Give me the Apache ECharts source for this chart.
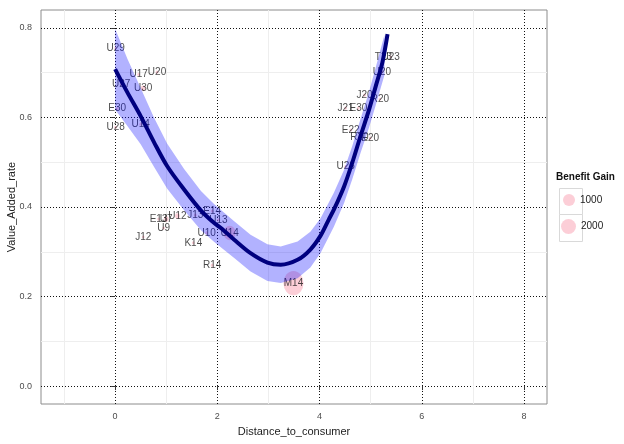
<!DOCTYPE html>
<html>
<head>
<meta charset="utf-8">
<script src="https://cdn.jsdelivr.net/npm/echarts@6/dist/echarts.min.js"></script>
<style>html,body{margin:0;padding:0;background:#fff}#c{width:624px;height:444px}</style>
</head>
<body>
<div id="c"></div>
<script>
// ---- data ----
const pointNames = ['U29','U17','U20','U27','U30','E30','U28','U14',
  'T23','U23','U20','J20','R20','J21','E30','E22','R20','E20','U26',
  'E13','U7','U12','J13','E14','U13','U9','J12','K14','U10','U14','R14','M14'];
const pointDistance = [0.01,0.46,0.82,0.12,0.55,0.04,0.01,0.50,
  5.25,5.39,5.22,4.88,5.18,4.51,4.76,4.61,4.78,4.99,4.51,
  0.85,1.00,1.22,1.57,1.90,2.02,0.95,0.55,1.53,1.79,2.24,1.90,3.49];
const pointValueAdded = [0.755,0.696,0.701,0.674,0.665,0.620,0.578,0.585,
  0.735,0.735,0.702,0.650,0.641,0.621,0.621,0.572,0.556,0.554,0.490,
  0.373,0.373,0.380,0.382,0.391,0.371,0.353,0.333,0.320,0.342,0.342,0.270,0.230];
const pointBenefit = [50,50,50,50,150,50,50,50,
  50,50,50,50,50,50,50,50,50,50,50,
  50,150,150,50,50,50,50,50,50,50,1000,50,2800];

const curveX = [0,0.24,0.50,0.76,1.02,1.35,1.68,1.94,2.07,2.33,2.65,2.98,3.24,3.57,3.82,4.02,4.18,4.28,4.48,4.64,4.80,4.97,5.10,5.23,5.33];
const curveY = [0.708,0.656,0.603,0.545,0.491,0.439,0.392,0.364,0.353,0.327,0.297,0.276,0.271,0.282,0.305,0.336,0.372,0.394,0.446,0.499,0.558,0.618,0.670,0.723,0.786];

const bandX    = [0,0.24,0.50,0.76,1.02,1.35,1.68,1.94,2.33,2.65,2.98,3.24,3.57,3.82,4.02,4.28,4.48,4.64,4.80,4.97,5.10,5.27];
const bandLow  = [0.618,0.581,0.540,0.490,0.441,0.393,0.348,0.322,0.286,0.256,0.235,0.230,0.241,0.265,0.297,0.356,0.409,0.462,0.520,0.578,0.628,0.695];
const bandHigh = [0.798,0.731,0.666,0.600,0.541,0.485,0.436,0.406,0.368,0.338,0.317,0.312,0.323,0.345,0.375,0.432,0.483,0.536,0.596,0.658,0.712,0.785];

const xTicks = [0,2,4,6,8];
const yTicks = [0,0.2,0.4,0.6,0.8];
const xMinor = [-1,1,3,5,7];
const yMinor = [0.1,0.3,0.5,0.7];
const legendValues = [1000,2000];

// ---- build ----
const FONT = '"Liberation Sans", Arial, sans-serif';
const PINK = 'rgba(250,178,192,0.8)';
function sizeOf(v){ const d = 0.38*Math.sqrt(v); return [d, d*1.2]; }

const scatterData = pointNames.map((n,i)=>[pointDistance[i], pointValueAdded[i], pointBenefit[i], n]);
const lineData = curveX.map((x,i)=>[x, curveY[i]]);
const bandData = bandX.map((x,i)=>[x, bandLow[i], bandHigh[i]]);

const chart = echarts.init(document.getElementById('c'), null, {renderer:'canvas'});
const axisLabelStyle = {fontSize:9, color:'#4d4d4d', fontFamily:FONT};
chart.setOption({
  animation:false,
  textStyle:{fontFamily:FONT},
  title:{text:'Benefit Gain', left:556, top:172, padding:0,
    textStyle:{fontSize:10, fontWeight:'bold', color:'#111', fontFamily:FONT}},
  grid:{left:41, right:77, top:10, bottom:40, show:true, borderColor:'#8c8c8c', borderWidth:1,
    backgroundColor:'#fff', containLabel:false, outerBoundsMode:'none'},
  xAxis:{type:'value', min:-1.45, max:8.45,
    name:'Distance_to_consumer', nameLocation:'middle', nameGap:22, nameMoveOverlap:false,
    nameTextStyle:{fontSize:11, color:'#222'},
    axisLine:{show:false},
    axisTick:{show:true, customValues:xTicks, length:4, lineStyle:{color:'#333'}},
    axisLabel:{customValues:xTicks, margin:8, ...axisLabelStyle},
    splitLine:{show:true, lineStyle:{color:'#111', type:[1,2], width:1}}},
  yAxis:{type:'value', min:-0.04, max:0.84,
    name:'Value_Added_rate', nameLocation:'middle', nameGap:24, nameRotate:90, nameMoveOverlap:false,
    nameTextStyle:{fontSize:11, color:'#222'},
    axisLine:{show:false},
    axisTick:{show:true, customValues:yTicks, length:4, lineStyle:{color:'#333'}},
    axisLabel:{customValues:yTicks, margin:9, formatter:v=>v.toFixed(1), ...axisLabelStyle},
    splitLine:{show:true, lineStyle:{color:'#111', type:[1,2], width:1}}},
  legend:[
    {left:563, top:194, data:[String(legendValues[0])], icon:'circle', itemWidth:12, itemHeight:14,
      selectedMode:false, padding:0, textStyle:{fontSize:10, color:'#222'}},
    {left:561, top:219, data:[String(legendValues[1])], icon:'circle', itemWidth:15, itemHeight:18,
      selectedMode:false, padding:0, textStyle:{fontSize:10, color:'#222'}}
  ],
  graphic:[
    {type:'rect', left:559, top:188, shape:{width:23, height:26}, style:{fill:'#fff', stroke:'#d9d9d9', lineWidth:1}, z:-1},
    {type:'rect', left:559, top:214, shape:{width:23, height:27}, style:{fill:'#fff', stroke:'#d9d9d9', lineWidth:1}, z:-1}
  ],
  series:[
    {type:'line', name:'minorgrid', data:[], z:0, silent:true,
      markLine:{silent:true, symbol:'none', label:{show:false}, animation:false, z:0,
        lineStyle:{color:'#eeeeee', type:'solid', width:1},
        data:[...xMinor.map(x=>({xAxis:x})), ...yMinor.map(y=>({yAxis:y}))]}},
    {type:'scatter', name:'points', data:scatterData, z:2,
      symbolSize:(d)=>sizeOf(d[2]),
      itemStyle:{color:PINK},
      label:{show:true, position:'inside', formatter:(p)=>p.data[3], fontSize:10, color:'#1a1a1a', fontFamily:FONT}},
    {type:'custom', name:'band', data:bandData, z:3, silent:true, clip:true,
      encode:{x:0, y:[1,2]},
      renderItem:(params, api)=>{
        if (params.dataIndex !== 0) return null;
        const up = [], lo = [];
        for (let i=0;i<bandData.length;i++){
          up.push(api.coord([bandData[i][0], bandData[i][2]]));
          lo.push(api.coord([bandData[i][0], bandData[i][1]]));
        }
        return {type:'polygon', shape:{points: up.concat(lo.reverse())},
          style:{fill:'rgba(0,0,255,0.3)'}};
      }},
    {type:'line', name:'smooth', data:lineData, smooth:0.3, symbol:'none', z:4,
      lineStyle:{color:'#00007f', width:4}},
    {type:'scatter', name:String(legendValues[0]), data:[], itemStyle:{color:PINK}},
    {type:'scatter', name:String(legendValues[1]), data:[], itemStyle:{color:PINK}}
  ]
});
</script>
</body>
</html>
